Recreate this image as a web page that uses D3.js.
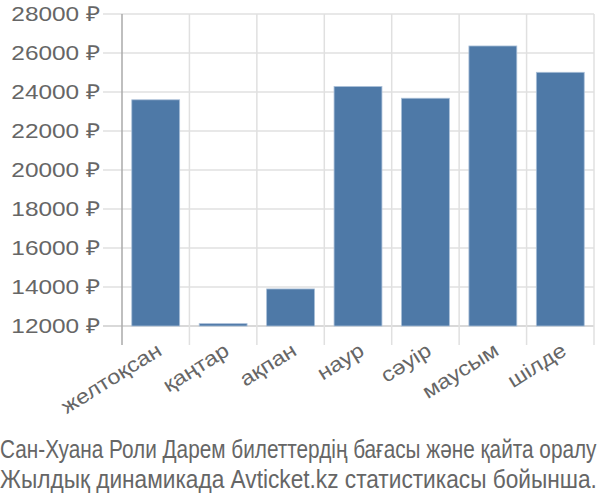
<!DOCTYPE html>
<html><head><meta charset="utf-8">
<script src="https://cdn.jsdelivr.net/npm/d3@7"></script>
<style>body{margin:0;background:#fff}svg{display:block}text{font-family:"Liberation Sans",Arial,sans-serif}</style>
</head><body><svg id="c" width="600" height="500"></svg>
<script>
const categories = ["желтоқсан","қаңтар","ақпан","наур","сәуір","маусым","шілде"];
const values = [23600, 12120, 13900, 24280, 23680, 26360, 25010];
const yTicks = [12000,14000,16000,18000,20000,22000,24000,26000,28000];
const titleLines = ["Сан-Хуана Роли Дарем билеттердің бағасы және қайта оралу","Жылдық динамикада Avticket.kz статистикасы бойынша."];

(function(){
const svg = d3.select("#c");
const mLeft = 122, mRight = 594, mTop = 14, mBottom = 326;
const x = d3.scaleBand().domain(categories).range([mLeft, mRight]).paddingInner(0.29).paddingOuter(0.145);
const y = d3.scaleLinear().domain([12000, 28000]).range([mBottom, mTop]);
const labelStretch = 1.19;

svg.append("g").selectAll("line").data(yTicks).join("line")
  .attr("x1", 103).attr("x2", mRight).attr("y1", d=>y(d)).attr("y2", d=>y(d))
  .attr("stroke", d => d===12000 ? "#ccc" : "#e0e0e0").attr("stroke-width", 1.5);
const bounds = categories.map(c => x(c) - x.step()*x.paddingInner()/2);
bounds.push(mRight);
svg.append("g").selectAll("line").data(bounds).join("line")
  .attr("x1", d=>d).attr("x2", d=>d).attr("y1", mTop).attr("y2", 345)
  .attr("stroke", (d,i) => i===0 ? "#aaa" : "#e0e0e0").attr("stroke-width", 1.5);

svg.append("g").selectAll("text").data(yTicks).join("text")
  .attr("transform", d => `translate(100,${y(d)}) scale(${labelStretch},1)`)
  .attr("dy", "0.35em").attr("text-anchor","end")
  .attr("fill","#666").attr("font-size", 20.5).text(d => d + " ₽");

svg.append("g").selectAll("rect").data(values).join("rect")
  .attr("x", (d,i)=>x(categories[i])).attr("width", x.bandwidth())
  .attr("y", d=>y(d)).attr("height", d=>y(12000)-y(d))
  .attr("fill","#4e79a7").attr("stroke","#a9bfd8").attr("stroke-width",0.8);

svg.append("g").selectAll("text").data(categories).join("text")
  .attr("transform", d => `translate(${x(d)+x.bandwidth()/2+7.5},354) rotate(-32) scale(1.15,1)`)
  .attr("text-anchor","end").attr("fill","#666").attr("font-size", 20.5).text(d=>d);

const t = svg.append("g").selectAll("text").data(titleLines).join("text")
  .attr("x", 0).attr("y", 0).attr("fill","#666").attr("font-size", 25).text(d=>d);
t.attr("transform", function(d,i){
  const sx = 597 / this.getComputedTextLength();
  return `translate(0,${458 + i*30}) scale(${sx},1)`;
});
})();
</script></body></html>
